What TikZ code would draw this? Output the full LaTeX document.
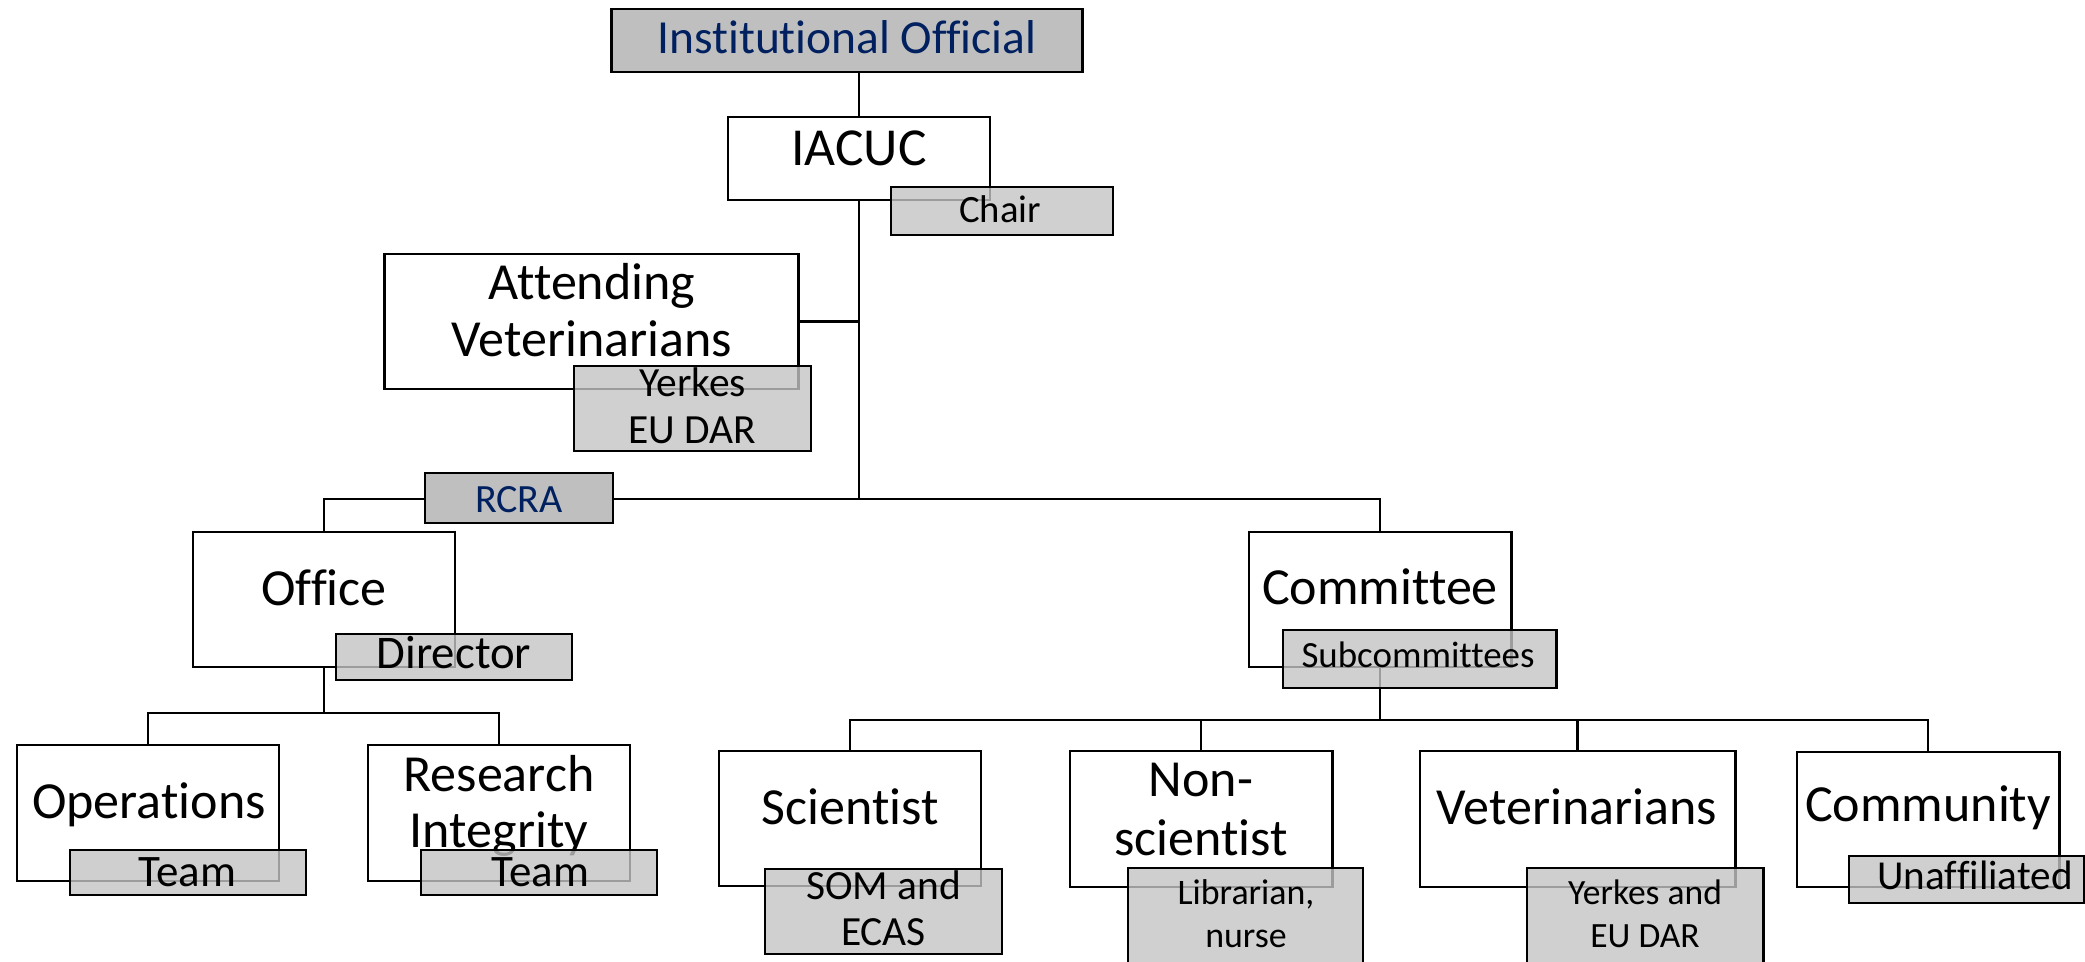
\documentclass[tikz,border=0pt]{standalone}
\usepackage{fontspec}
\setmainfont{Carlito}[Ligatures=NoCommon]
\definecolor{navy}{RGB}{0,32,96}
\definecolor{darkbox}{RGB}{191,191,191}
\definecolor{lightbox}{RGB}{196,196,196}
\newcommand{\fs}[2]{\fontsize{#1}{#2}\selectfont}
\newcommand{\twolines}[2]{\begin{tabular}[t]{@{}c@{}}#1\\#2\end{tabular}}
\begin{document}
\begin{tikzpicture}[x=0.01cm,y=-0.01cm,
  wbox/.style={draw, line width=0.8pt, fill=white, inner sep=0pt},
  gbox/.style={draw, line width=0.8pt, fill=lightbox, fill opacity=0.8, inner sep=0pt},
  dbox/.style={draw, line width=0.8pt, fill=darkbox, inner sep=0pt},
  link/.style={line width=0.75pt},
  thinlink/.style={line width=0.4pt},
  txt/.style={anchor=base, inner sep=0pt, text=black},
  big/.style={font=\fs{14.8}{16.2}},
  teamf/.style={font=\fs{12.8}{14}}
]
\useasboundingbox (0,0) rectangle (2085,962);
\clip (0,0) rectangle (2085,962);

% white boxes
\node[dbox, minimum width=4.70cm, minimum height=0.63cm] (io) at (847,40.5) {};
\node[wbox, minimum width=2.62cm, minimum height=0.83cm] (iacuc) at (859,158.5) {};
\node[wbox, minimum width=4.13cm, minimum height=1.35cm] (att) at (591.5,321.5) {};
\node[wbox, minimum width=2.62cm, minimum height=1.35cm] (office) at (324,599.5) {};
\node[wbox, minimum width=2.62cm, minimum height=1.35cm] (committee) at (1380,599.5) {};
\node[wbox, minimum width=2.62cm, minimum height=1.36cm] (ops) at (148,813) {};
\node[wbox, minimum width=2.62cm, minimum height=1.36cm] (ri) at (499,813) {};
\node[wbox, minimum width=2.62cm, minimum height=1.35cm] (sci) at (850,818.5) {};
\node[wbox, minimum width=2.62cm, minimum height=1.36cm] (ns) at (1201,819) {};
\node[wbox, minimum width=3.15cm, minimum height=1.36cm] (vet) at (1577.5,819) {};
\node[wbox, minimum width=2.62cm, minimum height=1.35cm] (comm) at (1928,819.5) {};

% texts of white boxes
\node[txt, text=navy, font=\fs{13.5}{16}] (io-t) at (847,54) {Institutional Official};
\node[txt, font=\fs{15.2}{16.2}] (iacuc-t) at (859,166) {IACUC};
\node[txt, big] (att-t) at (592,300) {\twolines{Attending}{Veterinarians}};
\node[txt, big] (office-t) at (324,606) {Office};
\node[txt, big] (committee-t) at (1380,605) {Committee};
\node[txt, big] (ops-t) at (149,819) {Operations};
\node[txt, font=\fs{14.8}{15.9}] (ri-t) at (499,792) {\twolines{Research}{Integrity}};
\node[txt, big] (sci-t) at (850,825) {Scientist};
\node[txt, font=\fs{14.8}{16.5}] (ns-t) at (1201,797) {\twolines{Non-}{scientist}};
\node[txt, big] (vet-t) at (1577,825) {Veterinarians};
\node[txt, big] (comm-t) at (1928,822) {Community};

% connectors
\coordinate (hub) at (859,499);
\coordinate (ohub) at (324,713);
\coordinate (chub) at (1380,720);
\draw[thinlink] (iacuc.north) -- (iacuc.north |- io.south);
\draw[link] (iacuc.south) -- (hub);
\draw[link] (att.east) -- (att.east -| iacuc.south);
\draw[link] (office.north) |- (hub) -| (committee.north);
\draw[link] (office.south) -- (ohub);
\draw[link] (ops.north) |- (ohub) -| (ri.north);
\draw[link] (committee.south) -- (chub);
\draw[link] (sci.north) |- (chub) -| (comm.north);
\draw[link] (ns.north) -- (ns.north |- chub);
\draw[link] (vet.north) -- (vet.north |- chub);

% grey label boxes
\node[gbox, minimum width=2.22cm, minimum height=0.48cm] (chair) at (1002,211) {};
\node[gbox, minimum width=2.37cm, minimum height=0.85cm] (attsub) at (692.5,408.5) {};
\node[dbox, minimum width=1.88cm, minimum height=0.50cm] (rcra) at (519,498) {};
\node[gbox, minimum width=2.36cm, minimum height=0.46cm] (director) at (454,657) {};
\node[gbox, minimum width=2.73cm, minimum height=0.58cm] (subc) at (1419.5,659) {};
\node[gbox, minimum width=2.36cm, minimum height=0.45cm] (opsteam) at (188,872.5) {};
\node[gbox, minimum width=2.36cm, minimum height=0.45cm] (riteam) at (539,872.5) {};
\node[gbox, minimum width=2.37cm, minimum height=0.85cm] (som) at (883.5,911.5) {};
\node[gbox, minimum width=2.35cm, minimum height=1.07cm] (lib) at (1245.5,921.5) {};
\node[gbox, minimum width=2.36cm, minimum height=1.07cm] (yerk) at (1645,921.5) {};
\node[gbox, minimum width=2.35cm, minimum height=0.47cm] (unaff) at (1966.5,879.5) {};

% texts of grey boxes
\node[txt, font=\fs{11}{13}] (chair-t) at (1000,223) {Chair};
\node[txt, font=\fs{11.8}{13.1}] (attsub-t) at (692.5,397) {\twolines{Yerkes}{EU DAR}};
\node[txt, text=navy, font=\fs{11.4}{13}] (rcra-t) at (519,513) {RCRA};
\node[txt, font=\fs{13.3}{15}] (director-t) at (454,669) {Director};
\node[txt, font=\fs{10.5}{12}] (subc-t) at (1418,668) {Subcommittees};
\node[txt, teamf] (opsteam-t) at (187,887) {Team};
\node[txt, teamf] (riteam-t) at (540,887) {Team};
\node[txt, font=\fs{11.8}{12.8}] (som-t) at (883.5,900) {\twolines{SOM and}{ECAS}};
\node[txt, font=\fs{10.2}{12}] (lib-t) at (1246,905) {\twolines{Librarian,}{nurse}};
\node[txt, font=\fs{10.1}{12}] (yerk-t) at (1645,905) {\twolines{Yerkes and}{EU DAR}};
\node[txt, font=\fs{11.7}{13}] (unaff-t) at (1975,890) {Unaffiliated};
\end{tikzpicture}
\end{document}
